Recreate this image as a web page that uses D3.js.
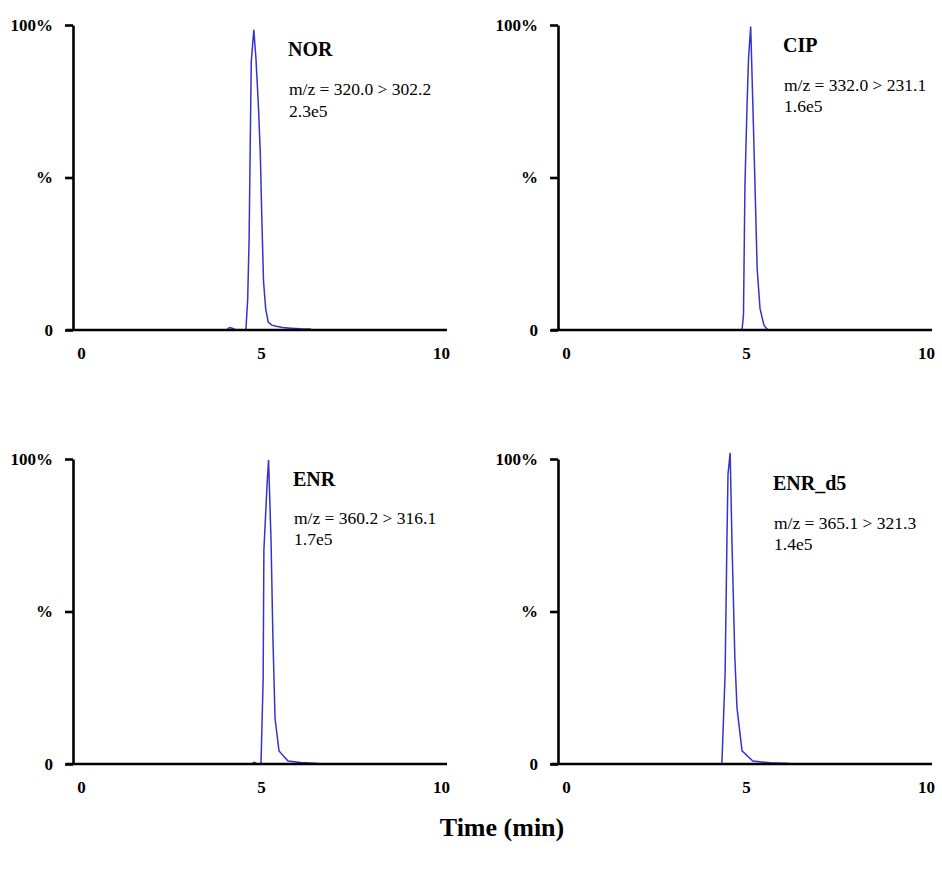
<!DOCTYPE html>
<html>

<head>
  <meta charset="utf-8">
  <title>Chromatograms</title>
  <script src="https://cdn.jsdelivr.net/npm/d3@7/dist/d3.min.js"></script>
  <style>
    body { margin: 0; background: #fff; }
    text { font-family: "Liberation Serif", "Times New Roman", serif; fill: #000; }
  </style>
</head>

<body>
  <svg width="942" height="870" id="mainsvg"></svg>
  <script>
    // retention time (min) and relative intensity (%)
    const norTime = [4.05, 4.12, 4.2, 4.3, 4.58, 4.63, 4.67, 4.70, 4.73, 4.80, 4.86, 4.93, 4.98, 5.02, 5.07, 5.13, 5.2, 5.3, 5.42, 5.6, 5.83, 6.1, 6.39];
    const norInt = [0, 0.8, 0.6, 0, 0, 10, 30, 60, 88, 98.4, 89, 73, 58, 38, 16, 7, 2.6, 1.6, 1.2, 0.8, 0.6, 0.4, 0.3];

    const cipTime = [4.85, 4.89, 4.93, 4.97, 5.03, 5.07, 5.13, 5.19, 5.25, 5.31, 5.39, 5.5, 5.61];
    const cipInt = [0, 0, 5, 47, 74, 89, 99.5, 74, 47.5, 20, 7, 1.5, 0];

    const enrTime = [4.75, 4.81, 4.89, 5.0, 5.06, 5.08, 5.17, 5.21, 5.28, 5.33, 5.39, 5.5, 5.75, 6.1, 6.58];
    const enrInt = [0, 0.6, 0, 0, 28, 70, 92, 99.7, 72.7, 41.8, 15, 4.3, 1, 0.5, 0.2];

    const enrD5Time = [4.28, 4.33, 4.42, 4.47, 4.5, 4.56, 4.61, 4.69, 4.75, 4.89, 5.19, 5.67, 6.2];
    const enrD5Int = [0, 0, 29.6, 73, 95, 102, 73, 35, 18.4, 4.3, 1, 0.4, 0.2];

    const names = ['NOR', 'CIP', 'ENR', 'ENR_d5'];
    const transitions = ['m/z = 320.0 > 302.2', 'm/z = 332.0 > 231.1', 'm/z = 360.2 > 316.1', 'm/z = 365.1 > 321.3'];
    const maxCounts = ['2.3e5', '1.6e5', '1.7e5', '1.4e5'];
    const xTicks = [0, 5, 10];
    const yTicks = [0, 50, 100];
    const yTickLabels = ['0', '%', '100%'];
    const xTitle = 'Time (min)';

    const series = [
      { time: norTime, value: norInt },
      { time: cipTime, value: cipInt },
      { time: enrTime, value: enrInt },
      { time: enrD5Time, value: enrD5Int }
    ];

    // layout: panel origins (top of y axis) and label offsets inside each panel
    const origins = [[73, 25], [558, 25], [73, 459], [558, 459]];
    const labelPos = [[215, 31, 70, 92], [225, 27, 66, 87], [220, 27, 65, 86], [215, 31, 70, 91]];
    const innerHeight = 305;

    const svg = d3.select('#mainsvg');
    const xScale = d3.scaleLinear().domain([0, 10]).range([8, 368]);
    const yScale = d3.scaleLinear().domain([0, 100]).range([innerHeight, 0]);

    const line = d3.line()
      .x(d => xScale(d[0]))
      .y(d => yScale(d[1]));

    series.forEach((s, i) => {
      const g = svg.append('g')
        .attr('transform', `translate(${origins[i][0]}, ${origins[i][1]})`);

      const pts = s.time.map((t, j) => [t, s.value[j]]);
      g.append('path').datum(pts)
        .attr('fill', 'none')
        .attr('stroke', '#3434cc')
        .attr('stroke-width', 1.5)
        .attr('d', line);

      // y axis with "100%", "%" and "0"
      const yAxis = d3.axisLeft(yScale)
        .tickValues(yTicks)
        .tickFormat((d, k) => yTickLabels[k])
        .tickSize(8)
        .tickSizeOuter(0)
        .tickPadding(12);
      const ya = g.append('g').call(yAxis);
      ya.select('.domain').attr('stroke-width', 2.6);
      ya.selectAll('.tick line').attr('stroke-width', 2.6);
      ya.selectAll('.tick text')
        .attr('font-size', 17).attr('font-weight', 'bold')
        .attr('font-family', '"Liberation Serif", serif');

      // x axis: long base line, labels only
      g.append('line')
        .attr('x1', -7).attr('x2', 374)
        .attr('y1', innerHeight).attr('y2', innerHeight)
        .attr('stroke', '#000').attr('stroke-width', 2.6);
      const xAxis = d3.axisBottom(xScale)
        .tickValues(xTicks)
        .tickFormat(d3.format('d'))
        .tickSize(0)
        .tickPadding(17);
      const xa = g.append('g')
        .attr('transform', `translate(0, ${innerHeight})`)
        .call(xAxis);
      xa.select('.domain').remove();
      xa.selectAll('.tick text')
        .attr('font-size', 17).attr('font-weight', 'bold')
        .attr('font-family', '"Liberation Serif", serif');

      const lp = labelPos[i];
      g.append('text')
        .attr('x', lp[0]).attr('y', lp[1])
        .attr('font-size', 20).attr('font-weight', 'bold')
        .text(names[i]);
      g.append('text')
        .attr('x', lp[0] + 1).attr('y', lp[2])
        .attr('font-size', 17.5)
        .text(transitions[i]);
      g.append('text')
        .attr('x', lp[0] + 1).attr('y', lp[3])
        .attr('font-size', 17.5)
        .text(maxCounts[i]);
    });

    svg.append('text')
      .attr('x', 502).attr('y', 836)
      .attr('text-anchor', 'middle')
      .attr('font-size', 26).attr('font-weight', 'bold')
      .text(xTitle);
  </script>
</body>

</html>
